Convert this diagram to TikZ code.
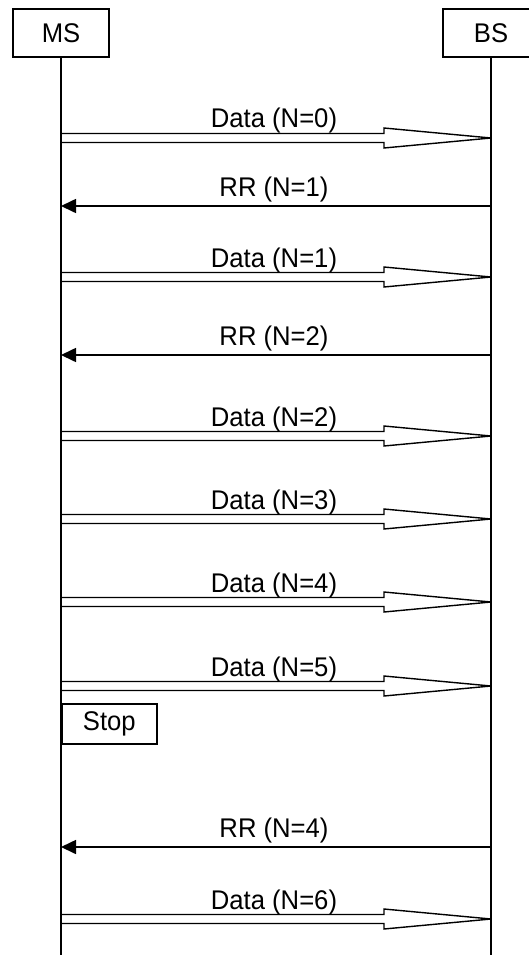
\documentclass[tikz,border=0pt]{standalone}
\usepackage{fontspec}
\setmainfont{Liberation Sans}
\usetikzlibrary{arrows.meta,calc}
\newcommand\narrowtxt[1]{\scalebox{0.95}[1]{#1}}
\tikzset{
 entity/.style={draw,line width=1.6pt,minimum width=96pt,minimum height=48pt,inner sep=0pt,font=\fontsize{27}{32}\selectfont},
 stopbox/.style={draw,line width=1.6pt,minimum width=95pt,minimum height=40pt,inner sep=0pt,anchor=north west,font=\fontsize{27}{32}\selectfont},
 msglabel/.style={anchor=base,inner sep=0pt,font=\fontsize{27}{32}\selectfont},
 lifeline/.style={line width=1.6pt},
 dataline/.style={line width=1.4pt,line join=miter},
 rrarrow/.style={line width=1.6pt,-{Triangle[length=15pt,width=14pt]}}
}
\begin{document}
\begin{tikzpicture}[x=1pt,y=-1pt]
 \useasboundingbox (0,0) rectangle (528,955);
 \node[entity] (ms) at (61,33) {\narrowtxt{MS}};
 \node[entity] (bs) at (491,33) {\narrowtxt{BS}};
 \coordinate (msend) at (ms |- 0,955);
 \coordinate (bsend) at (bs |- 0,955);
 \draw[lifeline] (ms.south) -- (msend);
 \draw[lifeline] (bs.south) -- (bsend);
 % data frames MS -> BS
 \foreach \n/\y in {0/138,1/277,2/436,3/519,4/602,5/686,6/919}{
  \coordinate (d\n s) at (ms |- 0,\y);
  \coordinate (d\n e) at (bs |- 0,\y);
  \draw[dataline] ([yshift=4.5pt]d\n s) -- ([xshift=-107pt,yshift=4.5pt]d\n e) -- ([xshift=-107pt,yshift=10pt]d\n e) -- (d\n e) -- ([xshift=-107pt,yshift=-10pt]d\n e) -- ([xshift=-107pt,yshift=-4.5pt]d\n e) -- ([yshift=-4.5pt]d\n s);
  \node[msglabel] (dl\n) at ($(d\n s)!0.5!(d\n e)+(-2,-10)$) {\narrowtxt{Data (N=\n)}};
 }
 % receive ready BS -> MS
 \foreach \n/\y in {1/206,2/355,4/847}{
  \coordinate (r\n s) at (bs |- 0,\y);
  \coordinate (r\n e) at (ms |- 0,\y);
  \draw[rrarrow] (r\n s) -- (r\n e);
  \node[msglabel] (rl\n) at ($(r\n s)!0.5!(r\n e)+(-2,-10)$) {\narrowtxt{RR (N=\n)}};
 }
 \node[stopbox] (stop) at (ms |- 0,703) {\narrowtxt{Stop}};
\end{tikzpicture}
\end{document}
